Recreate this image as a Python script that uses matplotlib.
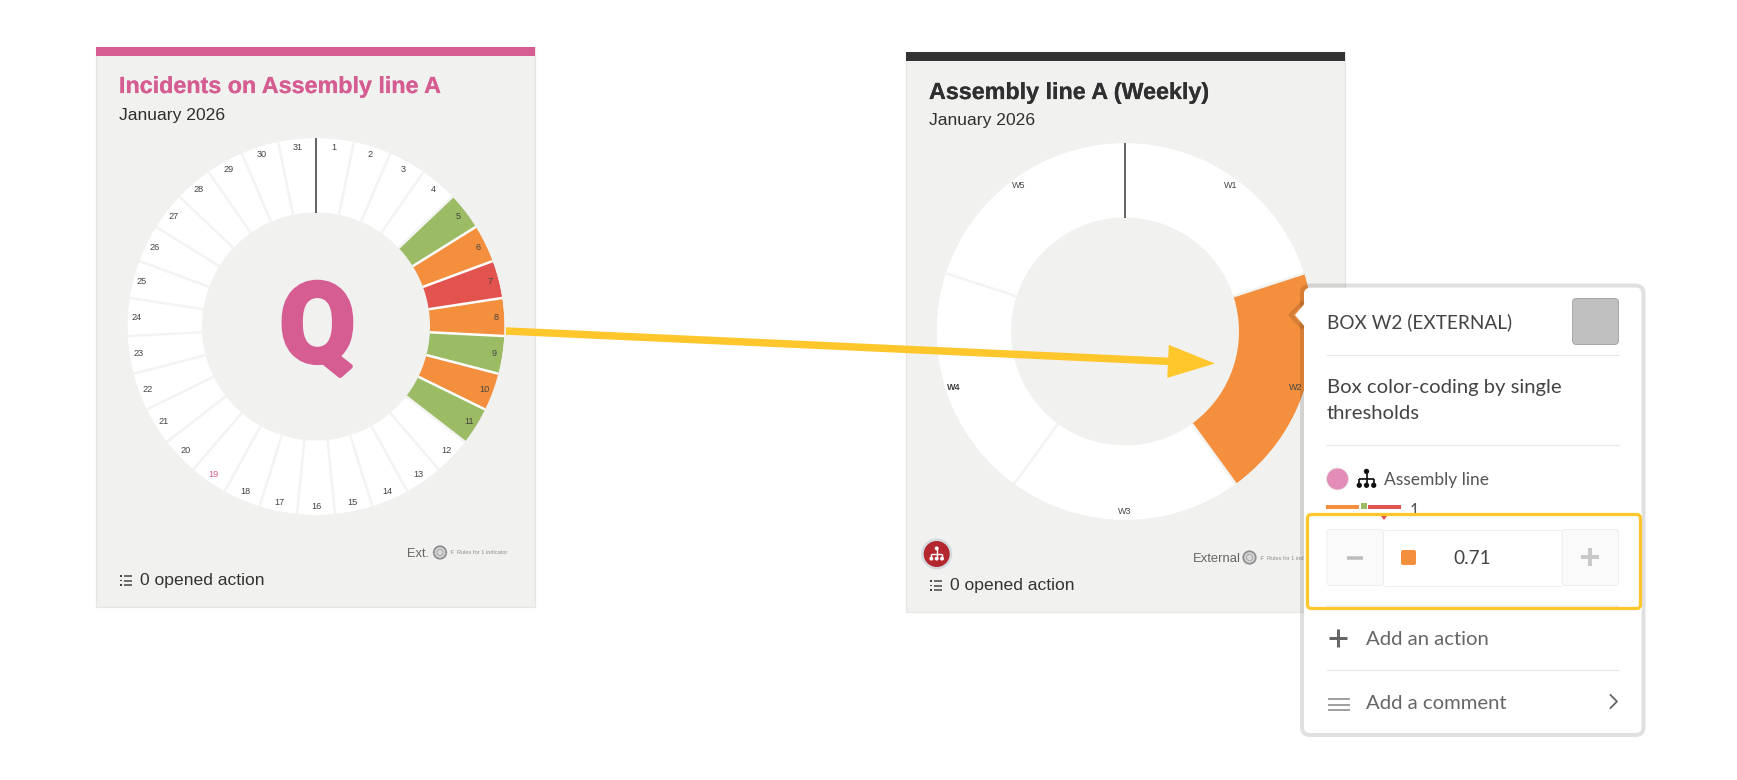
import numpy as np
import matplotlib
matplotlib.use("Agg")
import matplotlib.pyplot as plt
import matplotlib.patheffects as pe
from matplotlib.patches import FancyBboxPatch, Rectangle, Circle, Polygon, FancyArrow

W, H = 1737, 780
DPI = 100

# ---- data ----
days = [str(d) for d in range(1, 32)]
day_status = [None, None, None, None, "ok", "warn", "bad", "warn", "ok", "warn", "ok"] + [None] * 20
day_label_colors = {"19": "#D55D92"}
weeks = ["W1", "W2", "W3", "W4", "W5"]
week_status = [None, "warn", None, None, None]
week_label_weight = {"W4": "bold"}
titles = ["Incidents on Assembly line A", "Assembly line A (Weekly)"]
subtitle = "January 2026"
footer = "0 opened action"
threshold_value = "0.71"

# ---- palette ----
STATUS = {"ok": "#9BBB65", "warn": "#F4903D", "bad": "#E2534F"}
PANEL = "#F1F1EF"
PANEL_EDGE = "#E6E6E4"
PINK = "#D55D92"
DARK = "#2F2F2F"
YELLOW = "#FFC72C"
SANS = "Liberation Sans"
UI = "Lato"


def pt(px):
    return px * 72 / DPI


fig = plt.figure(figsize=(W / DPI, H / DPI), dpi=DPI, facecolor="white")


def pixel_axes(z):
    ax = fig.add_axes([0, 0, 1, 1], zorder=z)
    ax.set_xlim(0, W)
    ax.set_ylim(H, 0)
    ax.axis("off")
    ax.patch.set_alpha(0)
    return ax


base = pixel_axes(0)
over = pixel_axes(5)


def rrect(ax, x0, y0, x1, y1, r, fc="none", ec="none", lw=0, alpha=None, z=2):
    p = FancyBboxPatch((x0, y0), x1 - x0, y1 - y0, boxstyle=f"round,pad=0,rounding_size={r}",
                       fc=fc, ec=ec, lw=pt(lw), alpha=alpha, zorder=z)
    ax.add_patch(p)
    return p


def hline(ax, x0, x1, y, color, lw=1, z=3, cap="butt"):
    ax.plot([x0, x1], [y, y], color=color, lw=pt(lw), zorder=z, solid_capstyle=cap)


def vline(ax, x, y0, y1, color, lw=1, z=3):
    ax.plot([x, x], [y0, y1], color=color, lw=pt(lw), zorder=z, solid_capstyle="butt")


def list_icon(ax, x, y):
    for dy in (0, 4.5, 9):
        ax.add_patch(Rectangle((x, y + dy - 0.8), 2, 1.6, fc="#444", ec="none", zorder=3))
        hline(ax, x + 3.5, x + 12, y + dy, "#444", 1.5)


def ring_icon(ax, x, y):
    ax.add_patch(Circle((x, y), 6.2, fc="#D8D8D8", ec="#8F8F8F", lw=pt(1.8), zorder=3))
    ax.add_patch(Circle((x, y), 3.2, fc="none", ec="#A5A5A5", lw=pt(1), zorder=4))


def org_icon(ax, x, y, s, color, z=4):
    top = y - 0.40 * s
    mid = y + 0.02 * s
    bot = y + 0.33 * s
    vline(ax, x, top, bot, color, lw=0.07 * s + 0.4, z=z)
    hline(ax, x - 0.38 * s, x + 0.38 * s, mid, color, lw=0.07 * s + 0.4, z=z)
    for dx in (-0.38, 0.38):
        vline(ax, x + dx * s, mid, bot, color, lw=0.07 * s + 0.4, z=z)
    ax.add_patch(Circle((x, top), 0.14 * s, fc=color, ec="none", zorder=z))
    for dx in (-0.38, 0, 0.38):
        ax.add_patch(Circle((x + dx * s, bot), 0.14 * s, fc=color, ec="none", zorder=z))


def panel(x0, x1, y0, y1, bar_h, bar_color, title, title_color, tx, title_base, sub_base):
    base.add_patch(Rectangle((x0, y0), x1 - x0, y1 - y0, fc=PANEL, ec=PANEL_EDGE, lw=pt(1.2), zorder=1))
    base.add_patch(Rectangle((x0, y0), x1 - x0, bar_h, fc=bar_color, ec="none", zorder=2))
    t = base.text(tx, title_base, title, color=title_color, family=SANS, weight="bold", fontsize=pt(23.3),
                  va="baseline", zorder=3)
    t.set_path_effects([pe.withStroke(linewidth=0.15, foreground=title_color)])
    base.text(tx, sub_base, subtitle, color=DARK, family=SANS, fontsize=pt(17.5), va="baseline", zorder=3)


def donut(cx, cy, labels, status, label_colors, label_weight, label_px):
    R, r_in, r_lab = 188.5, 114.0, 180.0
    ax = fig.add_axes([(cx - R) / W, 1 - (cy + R) / H, 2 * R / W, 2 * R / H], projection="polar", zorder=2)
    ax.set_theta_zero_location("N")
    ax.set_theta_direction(-1)
    ax.set_ylim(0, R)
    ax.axis("off")
    ax.patch.set_alpha(0)
    n = len(labels)
    step = 2 * np.pi / n
    mids = (np.arange(n) + 0.5) * step
    colors = [STATUS[s] if s else "white" for s in status]
    ax.bar(mids, R - r_in, width=step, bottom=r_in, color=colors, edgecolor="none", linewidth=0, zorder=1)
    for i in range(1, n):
        both = status[i - 1] and status[i]
        ax.plot([i * step, i * step], [r_in, R], color="white" if both else "#F3F3F1", lw=pt(2.5), zorder=2,
                solid_capstyle="butt")
    ax.plot([0, 0], [r_in, R], color="#666666", lw=pt(2), zorder=3, solid_capstyle="butt")
    for m, lab in zip(mids, labels):
        ax.text(m, r_lab, lab, ha="center", va="center", family=SANS, fontsize=pt(label_px),
                color=label_colors.get(lab, "#444444"), weight=label_weight.get(lab, "normal"), zorder=4)
    return ax


# ---- left panel ----
panel(96, 535, 47, 607, 8.5, PINK, titles[0], PINK, 119, 93, 120)
donut(316, 326.5, days, day_status, day_label_colors, {}, 9.2)
q = over.text(317.5, 361.5, "Q", color=PINK, family="Roboto", weight="bold", fontsize=pt(110), ha="center",
              va="baseline", zorder=1)
q.set_path_effects([pe.withStroke(linewidth=pt(5), foreground=PINK)])
base.text(406.5, 557, "Ext.", color="#666", family=SANS, fontsize=pt(12.8), va="baseline", zorder=3)
ring_icon(base, 440, 552.5)
base.text(449.5, 554.5, ":F", color="#999", family=SANS, fontsize=pt(6), va="baseline", zorder=3)
base.text(457, 554.5, "Rules for 1 indicator", color="#8E8E8E", family=SANS, fontsize=pt(5.6), va="baseline", zorder=3)
list_icon(base, 120, 576)
base.text(140, 585, footer, color="#333", family=SANS, fontsize=pt(17.5), va="baseline", zorder=3)

# ---- right panel ----
panel(906, 1345, 52, 612, 8.5, "#333333", titles[1], DARK, 929, 99, 125.5)
donut(1125, 331.5, weeks, week_status, {}, week_label_weight, 9)
base.add_patch(Circle((936.7, 554), 15.5, fc="#D3DADE", ec="none", zorder=3))
base.add_patch(Circle((936.7, 554), 13, fc="#B5272F", ec="none", zorder=4))
org_icon(base, 936.7, 554, 14, "white", z=5)
base.text(1193, 561.5, "External", color="#666", family=SANS, fontsize=pt(13), va="baseline", zorder=3)
ring_icon(base, 1249.5, 557.5)
base.text(1259, 559.5, ":F", color="#999", family=SANS, fontsize=pt(6), va="baseline", zorder=3)
base.text(1267, 559.5, "Rules for 1 indicator", color="#8E8E8E", family=SANS, fontsize=pt(5.6), va="baseline", zorder=3)
list_icon(base, 930, 581)
base.text(950, 590, footer, color="#333", family=SANS, fontsize=pt(17.5), va="baseline", zorder=3)

# ---- yellow arrow ----
over.add_patch(FancyArrow(506, 331, 1215 - 506, 363.5 - 331, width=7.5, head_width=33, head_length=47,
                          length_includes_head=True, fc=YELLOW, ec="none", zorder=2))

# ---- tooltip ----
TIP = 10
rrect(over, 1304, 288, 1641.5, 733, 6, fc="white", z=TIP)
rrect(over, 1302, 285.5, 1643.5, 735, 8, ec="black", lw=4, alpha=0.12, z=TIP + 1)
over.add_patch(Polygon([(1306, 302), (1295, 315), (1306, 328)], fc="white", ec="none", zorder=TIP + 2))
over.plot([1302, 1290.5, 1302], [303, 315, 327], color="black", alpha=0.12, lw=pt(4), zorder=TIP + 1)

T = TIP + 3
txt = dict(family=UI, va="baseline", zorder=T)
over.text(1327, 328, "BOX W2 (EXTERNAL)", color="#444", fontsize=pt(19), **txt)
rrect(over, 1572.5, 298.5, 1618.5, 344.5, 4, fc="#C0C0C0", ec="#A8A8A8", lw=1, z=T)
hline(over, 1326, 1619, 354.5, "#E8E8E8", 1.2, z=T)
over.text(1327, 392.5, "Box color-coding by single", color="#444", fontsize=pt(20.3), **txt)
over.text(1327, 419, "thresholds", color="#444", fontsize=pt(20.3), **txt)
hline(over, 1326, 1619, 444.5, "#E8E8E8", 1.2, z=T)
over.add_patch(Circle((1337.5, 479), 11, fc="#E38CB8", ec="#EAEAEA", lw=pt(0.8), zorder=T))
org_icon(over, 1366.5, 479, 19, "#111", z=T)
over.text(1384, 485, "Assembly line", color="#555", fontsize=pt(17.4), **txt)
over.add_patch(Rectangle((1326, 505), 33, 4, fc=STATUS["warn"], ec="none", zorder=T))
over.add_patch(Rectangle((1361, 503), 6, 6, fc=STATUS["ok"], ec="none", zorder=T))
over.add_patch(Rectangle((1368, 505), 33, 4, fc=STATUS["bad"], ec="none", zorder=T))
over.text(1410, 516, "1", color="#555", fontsize=pt(16.5), **txt)

# highlighted stepper
over.add_patch(Rectangle((1306, 513), 336, 97, fc="white", ec="none", zorder=T + 0.5))
over.add_patch(Polygon([(1380, 515), (1388, 515), (1384, 520)], fc=STATUS["bad"], ec="none", zorder=T + 2))
hline(over, 1326, 1619, 606, "#EDEDED", 1.5, z=T + 1)
rrect(over, 1327, 529.5, 1383.5, 585.5, 3, fc="#FAFAFA", ec="#EEEEEE", lw=1, z=T + 1)
rrect(over, 1562, 529.5, 1618.5, 585.5, 3, fc="#FAFAFA", ec="#EEEEEE", lw=1, z=T + 1)
hline(over, 1383.5, 1562, 529.5, "#EEEEEE", 1, z=T + 1)
hline(over, 1383.5, 1562, 585.5, "#EEEEEE", 1, z=T + 1)
hline(over, 1347, 1363, 557.5, "#BDBDBD", 3.5, z=T + 2)
hline(over, 1581, 1599, 557, "#C8C8C8", 4, z=T + 2)
vline(over, 1590, 548, 566, "#C8C8C8", 4, z=T + 2)
rrect(over, 1401, 550, 1416, 565, 2, fc=STATUS["warn"], z=T + 2)
over.text(1453, 564, threshold_value, color="#444", fontsize=pt(19), family=UI, va="baseline", zorder=T + 2)
rrect(over, 1307.5, 514.5, 1640.5, 608.5, 4, ec=YELLOW, lw=3.2, z=T + 3)

# actions
hline(over, 1329, 1347, 637.5, "#666", 3, z=T)
vline(over, 1338, 628.5, 646.5, "#666", 3, z=T)
over.text(1365.5, 645, "Add an action", color="#666", fontsize=pt(20.3), **txt)
hline(over, 1326, 1619, 669.5, "#E8E8E8", 1.2, z=T)
for y in (699, 704.5, 710):
    hline(over, 1328, 1350, y, "#8A8A8A", 1.6, z=T)
over.text(1365.5, 709, "Add a comment", color="#666", fontsize=pt(20.3), **txt)
over.plot([1610.5, 1617, 1610.5], [695, 701.5, 708], color="#666", lw=pt(1.8), zorder=T)

fig.savefig("out.png", dpi=DPI, facecolor="white")
